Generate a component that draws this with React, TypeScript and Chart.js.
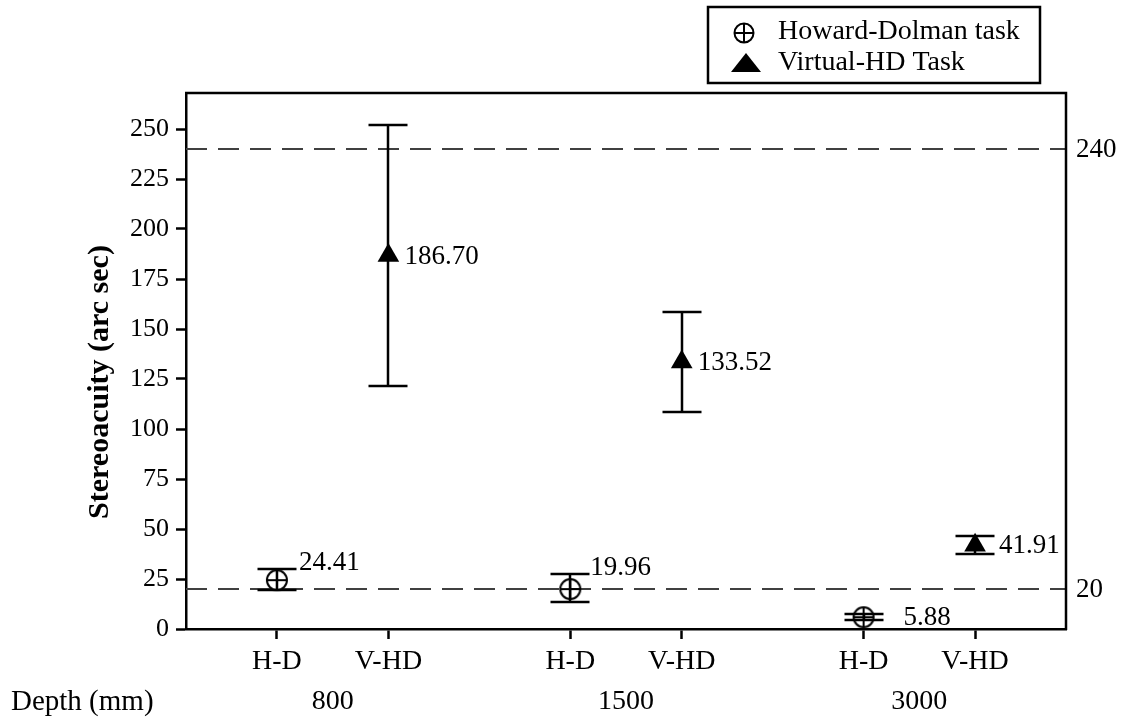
import React, { useEffect, useRef } from 'react';
import { Chart, registerables } from 'chart.js';

Chart.register(...registerables);

// Viewing distances (groups) and task labels under each group
const depths = ['800', '1500', '3000'];
const taskTicks = ['H-D', 'V-HD'];
const seriesNames = ['Howard-Dolman task', 'Virtual-HD Task'];

// Howard-Dolman task: mean stereoacuity and interval bounds (arc sec)
const hdMean = [24.41, 19.96, 5.88];
const hdLow = [19.4, 13.3, 4.4];
const hdHigh = [30.1, 27.3, 7.4];

// Virtual-HD task: mean stereoacuity and interval bounds (arc sec)
const vhdMean = [186.7, 133.52, 41.91];
const vhdLow = [121.5, 108.3, 37.5];
const vhdHigh = [252.0, 158.3, 46.5];

// Reference thresholds
const refLines = [240, 20];

// Y axis ticks
const yTicks = [0, 25, 50, 75, 100, 125, 150, 175, 200, 225, 250];
const Y_MAX = 268;

// Layout / style constants
const TASK_OFFSET = [-0.19, 0.19];
const CAP = 19.5;
const LINE_W = 2.5;
const SERIF = '"Liberation Serif", "Times New Roman", serif';
const LABEL_STYLE = [
  [
    { anchor: 'high', dx: 22 },
    { anchor: 'high', dx: 20 },
    { anchor: 'mid', dx: 40 },
  ],
  [
    { anchor: 'mid', dx: 16 },
    { anchor: 'mid', dx: 16 },
    { anchor: 'mid', dx: 24 },
  ],
];

const series = [
  { mean: hdMean, low: hdLow, high: hdHigh },
  { mean: vhdMean, low: vhdLow, high: vhdHigh },
];

function makeCirclePlus(r: number): HTMLCanvasElement {
  const size = Math.ceil(r * 2 + 4);
  const c = document.createElement('canvas');
  c.width = size;
  c.height = size;
  const g = c.getContext('2d')!;
  const m = size / 2;
  g.strokeStyle = '#000';
  g.lineWidth = 2;
  g.beginPath();
  g.arc(m, m, r, 0, Math.PI * 2);
  g.moveTo(m - r, m);
  g.lineTo(m + r, m);
  g.moveTo(m, m - r);
  g.lineTo(m, m + r);
  g.stroke();
  return c;
}

function drawTriangle(ctx: CanvasRenderingContext2D, cx: number, top: number, w: number, h: number) {
  ctx.beginPath();
  ctx.moveTo(cx, top);
  ctx.lineTo(cx + w / 2, top + h);
  ctx.lineTo(cx - w / 2, top + h);
  ctx.closePath();
  ctx.fill();
}

const decor = {
  id: 'decor',
  beforeDatasetsDraw(chart: any) {
    const { ctx, chartArea: a, scales } = chart;
    const x = scales.x;
    const y = scales.y;
    ctx.save();
    ctx.strokeStyle = '#404040';
    ctx.lineWidth = 2;
    ctx.setLineDash([21, 11]);
    refLines.forEach((v) => {
      const py = Math.round(y.getPixelForValue(v));
      ctx.beginPath();
      ctx.moveTo(a.left, py);
      ctx.lineTo(a.right, py);
      ctx.stroke();
    });
    ctx.setLineDash([]);
    ctx.strokeStyle = '#000';
    ctx.lineWidth = LINE_W;
    series.forEach((s, si) =>
      s.mean.forEach((_m, gi) => {
        const px = Math.round(x.getPixelForValue(gi + TASK_OFFSET[si]));
        const top = Math.round(y.getPixelForValue(s.high[gi]));
        const bot = Math.round(y.getPixelForValue(s.low[gi]));
        ctx.beginPath();
        ctx.moveTo(px, top);
        ctx.lineTo(px, bot);
        ctx.moveTo(px - CAP, top);
        ctx.lineTo(px + CAP, top);
        ctx.moveTo(px - CAP, bot);
        ctx.lineTo(px + CAP, bot);
        ctx.stroke();
      })
    );
    ctx.restore();
  },
  afterDraw(chart: any) {
    const { ctx, chartArea: a, scales } = chart;
    const x = scales.x;
    const y = scales.y;
    ctx.save();

    // top and right frame
    ctx.strokeStyle = '#000';
    ctx.lineWidth = LINE_W;
    ctx.beginPath();
    ctx.moveTo(a.left - 1, a.top);
    ctx.lineTo(a.right, a.top);
    ctx.lineTo(a.right, a.bottom + 1);
    ctx.stroke();

    ctx.fillStyle = '#000';

    // reference line values on the right
    ctx.font = `27px ${SERIF}`;
    ctx.textAlign = 'left';
    ctx.textBaseline = 'middle';
    refLines.forEach((v) => {
      ctx.fillText(String(v), a.right + 10, y.getPixelForValue(v) + 1);
    });

    // value labels
    series.forEach((s, si) =>
      s.mean.forEach((m, gi) => {
        const st = LABEL_STYLE[si][gi];
        const px = x.getPixelForValue(gi + TASK_OFFSET[si]);
        ctx.textAlign = 'left';
        if (st.anchor === 'high') {
          ctx.textBaseline = 'alphabetic';
          ctx.fillText(m.toFixed(2), px + st.dx, y.getPixelForValue(s.high[gi]) + 1);
        } else {
          ctx.textBaseline = 'middle';
          ctx.fillText(m.toFixed(2), px + st.dx, y.getPixelForValue(m) + 1);
        }
      })
    );

    // depth row
    ctx.font = `29px ${SERIF}`;
    ctx.textBaseline = 'middle';
    ctx.textAlign = 'left';
    ctx.fillText('Depth (mm)', 11, 702);
    ctx.font = `28px ${SERIF}`;
    ctx.textAlign = 'center';
    depths.forEach((d, gi) => {
      ctx.fillText(d, x.getPixelForValue(gi), 702);
    });

    // y axis title
    ctx.save();
    ctx.translate(100, (a.top + a.bottom) / 2 + 21);
    ctx.rotate(-Math.PI / 2);
    ctx.font = `bold 30px ${SERIF}`;
    ctx.textAlign = 'center';
    ctx.textBaseline = 'middle';
    ctx.fillText('Stereoacuity (arc sec)', 0, 0);
    ctx.restore();

    // legend
    ctx.lineWidth = LINE_W;
    ctx.strokeStyle = '#000';
    ctx.strokeRect(708, 7, 332, 76);
    ctx.font = `28px ${SERIF}`;
    ctx.textAlign = 'left';
    ctx.textBaseline = 'middle';
    ctx.fillText(seriesNames[0], 778, 32);
    ctx.fillText(seriesNames[1], 778, 63);
    ctx.lineWidth = 2;
    ctx.beginPath();
    ctx.arc(744, 33, 9.5, 0, Math.PI * 2);
    ctx.moveTo(734.5, 33);
    ctx.lineTo(753.5, 33);
    ctx.moveTo(744, 23.5);
    ctx.lineTo(744, 42.5);
    ctx.stroke();
    drawTriangle(ctx, 746, 53, 30, 19);

    ctx.restore();
  },
};

export default function App() {
  const ref = useRef<HTMLCanvasElement>(null);

  useEffect(() => {
    if (!ref.current) return;
    const tickPositions: number[] = [];
    const tickNames: string[] = [];
    depths.forEach((_d, gi) =>
      taskTicks.forEach((t, ti) => {
        tickPositions.push(gi + TASK_OFFSET[ti]);
        tickNames.push(t);
      })
    );

    const chart = new Chart(ref.current, {
      type: 'scatter',
      data: {
        datasets: [
          {
            label: seriesNames[0],
            data: hdMean.map((v, gi) => ({ x: gi + TASK_OFFSET[0], y: v })),
            pointStyle: makeCirclePlus(10) as any,
            pointRadius: 11,
            showLine: false,
          },
          {
            label: seriesNames[1],
            data: vhdMean.map((v, gi) => ({ x: gi + TASK_OFFSET[1], y: v })),
            pointStyle: 'triangle',
            pointRadius: 12.5,
            pointBackgroundColor: '#000',
            pointBorderColor: '#000',
            pointBorderWidth: 0,
            showLine: false,
          },
        ],
      },
      options: {
        responsive: false,
        animation: false,
        layout: { padding: { top: 93, right: 56, left: 0, bottom: 0 } },
        plugins: {
          legend: { display: false },
          tooltip: { enabled: false },
        },
        scales: {
          x: {
            type: 'linear',
            min: -0.5,
            max: 2.5,
            afterBuildTicks: (scale: any) => {
              scale.ticks = tickPositions.map((v) => ({ value: v }));
            },
            afterFit: (scale: any) => {
              scale.height = 92;
            },
            ticks: {
              autoSkip: false,
              maxRotation: 0,
              color: '#000',
              padding: 6,
              font: { family: SERIF, size: 28 },
              callback: (_v: any, i: number) => tickNames[i],
            },
            grid: {
              drawOnChartArea: false,
              drawTicks: true,
              tickLength: 10,
              tickWidth: LINE_W,
              tickColor: '#000',
            },
            border: { display: true, color: '#000', width: LINE_W },
          },
          y: {
            type: 'linear',
            min: 0,
            max: Y_MAX,
            afterBuildTicks: (scale: any) => {
              scale.ticks = yTicks.map((v) => ({ value: v }));
            },
            afterFit: (scale: any) => {
              scale.width = 186;
            },
            ticks: {
              color: '#000',
              padding: 7,
              font: { family: SERIF, size: 26 },
              callback: (v: any) => String(v),
            },
            grid: {
              drawOnChartArea: false,
              drawTicks: true,
              tickLength: 10,
              tickWidth: LINE_W,
              tickColor: '#000',
            },
            border: { display: true, color: '#000', width: LINE_W },
          },
        },
      },
      plugins: [decor],
    });
    return () => chart.destroy();
  }, []);

  return (
    <div style={{ position: 'absolute', left: 0, top: 0, width: 1122, height: 721, background: '#fff' }}>
      <canvas ref={ref} width={1122} height={721} />
    </div>
  );
}
